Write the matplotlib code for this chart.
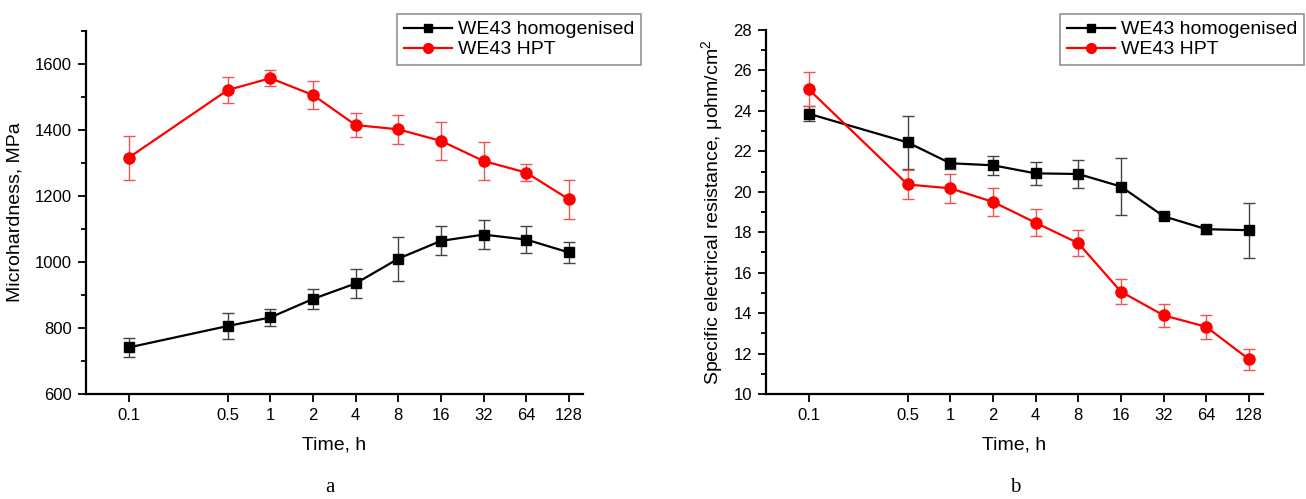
import matplotlib
matplotlib.use('Agg')
import matplotlib.pyplot as plt
from matplotlib.lines import Line2D
from matplotlib.ticker import FixedLocator, NullLocator, MultipleLocator

plt.rcParams['font.family'] = ['Liberation Sans', 'DejaVu Sans']
plt.rcParams['mathtext.fontset'] = 'custom'
plt.rcParams['mathtext.rm'] = 'Liberation Sans'
plt.rcParams['mathtext.it'] = 'Liberation Sans:italic'

time_h = [0.1, 0.5, 1, 2, 4, 8, 16, 32, 64, 128]
time_labels = ['0.1', '0.5', '1', '2', '4', '8', '16', '32', '64', '128']

# microhardness, MPa
hv_homog = [741, 806, 832, 888, 935, 1010, 1064, 1083, 1068, 1029]
hv_homog_err = [29, 38, 26, 30, 44, 67, 44, 43, 42, 33]
hv_hpt = [1316, 1521, 1557, 1506, 1415, 1402, 1367, 1306, 1271, 1190]
hv_hpt_err = [67, 40, 25, 43, 37, 44, 58, 57, 27, 59]

# specific electrical resistance
res_homog = [23.86, 22.44, 21.41, 21.31, 20.91, 20.88, 20.26, 18.79, 18.15, 18.10]
res_homog_err = [0.37, 1.32, 0.28, 0.46, 0.58, 0.70, 1.41, 0.10, 0.22, 1.35]
res_hpt = [25.07, 20.36, 20.17, 19.50, 18.47, 17.46, 15.06, 13.89, 13.32, 11.72]
res_hpt_err = [0.85, 0.72, 0.72, 0.71, 0.68, 0.66, 0.63, 0.58, 0.59, 0.52]

W, H = 1306, 499
fig = plt.figure(figsize=(W / 100, H / 100), dpi=100)

ax1 = fig.add_axes([86 / W, 1 - 394 / H, (583 - 86) / W, (394 - 31) / H])
ax2 = fig.add_axes([766 / W, 1 - 394 / H, (1263 - 766) / W, (394 - 30) / H])


def draw(ax, y1, e1, y2, e2):
    ax.errorbar(time_h, y1, yerr=e1, color='black', ecolor='#444444',
                elinewidth=1.0, capsize=4, capthick=1.0, lw=1.6,
                marker='s', ms=7, zorder=3)
    ax.errorbar(time_h, y2, yerr=e2, color='#ff0000', ecolor='#ee5555',
                elinewidth=1.0, capsize=4, capthick=1.0, lw=1.6,
                marker='o', ms=8, zorder=3)
    ax.set_xscale('log', base=2)
    ax.set_xlim(0.05, 161)
    ax.xaxis.set_major_locator(FixedLocator(time_h))
    ax.xaxis.set_minor_locator(NullLocator())
    ax.set_xticklabels(time_labels)
    for s in ['top', 'right']:
        ax.spines[s].set_visible(False)
    for s in ['left', 'bottom']:
        ax.spines[s].set_linewidth(1.6)
    ax.tick_params(which='major', direction='out', length=6, width=1.3,
                   labelsize=12, pad=4)
    ax.tick_params(which='minor', direction='out', length=3.5, width=1.3)
    ax.set_xlabel('Time, h', fontsize=14, labelpad=10)


draw(ax1, hv_homog, hv_homog_err, hv_hpt, hv_hpt_err)
ax1.set_ylim(600, 1700)
ax1.yaxis.set_major_locator(FixedLocator([600, 800, 1000, 1200, 1400, 1600]))
ax1.yaxis.set_minor_locator(MultipleLocator(100))
ax1.set_ylabel('Microhardness, MPa', fontsize=14, labelpad=8)

draw(ax2, res_homog, res_homog_err, res_hpt, res_hpt_err)
ax2.set_ylim(10, 28)
ax2.yaxis.set_major_locator(MultipleLocator(2))
ax2.yaxis.set_minor_locator(MultipleLocator(1))
ax2.set_ylabel('Specific electrical resistance, μohm/cm$^2$', fontsize=14,
               labelpad=6)

# legend shows line + marker only, no error bars
handles = [Line2D([], [], color='black', lw=1.6, marker='s', ms=6),
           Line2D([], [], color='#ff0000', lw=1.6, marker='o', ms=7)]
labels = ['WE43 homogenised', 'WE43 HPT']

for x0 in [397, 1060]:
    leg = fig.legend(handles, labels, loc='upper left',
                     bbox_to_anchor=(x0 / W, 1 - 14 / H), fontsize=14,
                     frameon=True, fancybox=False, edgecolor='#777777',
                     borderaxespad=0, borderpad=0.35, labelspacing=0.12,
                     handlelength=2.5, handletextpad=0.3)
    leg.get_frame().set_linewidth(1.2)

fig.text(330 / W, 1 - 488 / H, 'a', fontsize=15, family='Liberation Serif',
         ha='center', va='center')
fig.text(1015 / W, 1 - 488 / H, 'b', fontsize=15, family='Liberation Serif',
         ha='center', va='center')

fig.savefig('out.png', dpi=100)
